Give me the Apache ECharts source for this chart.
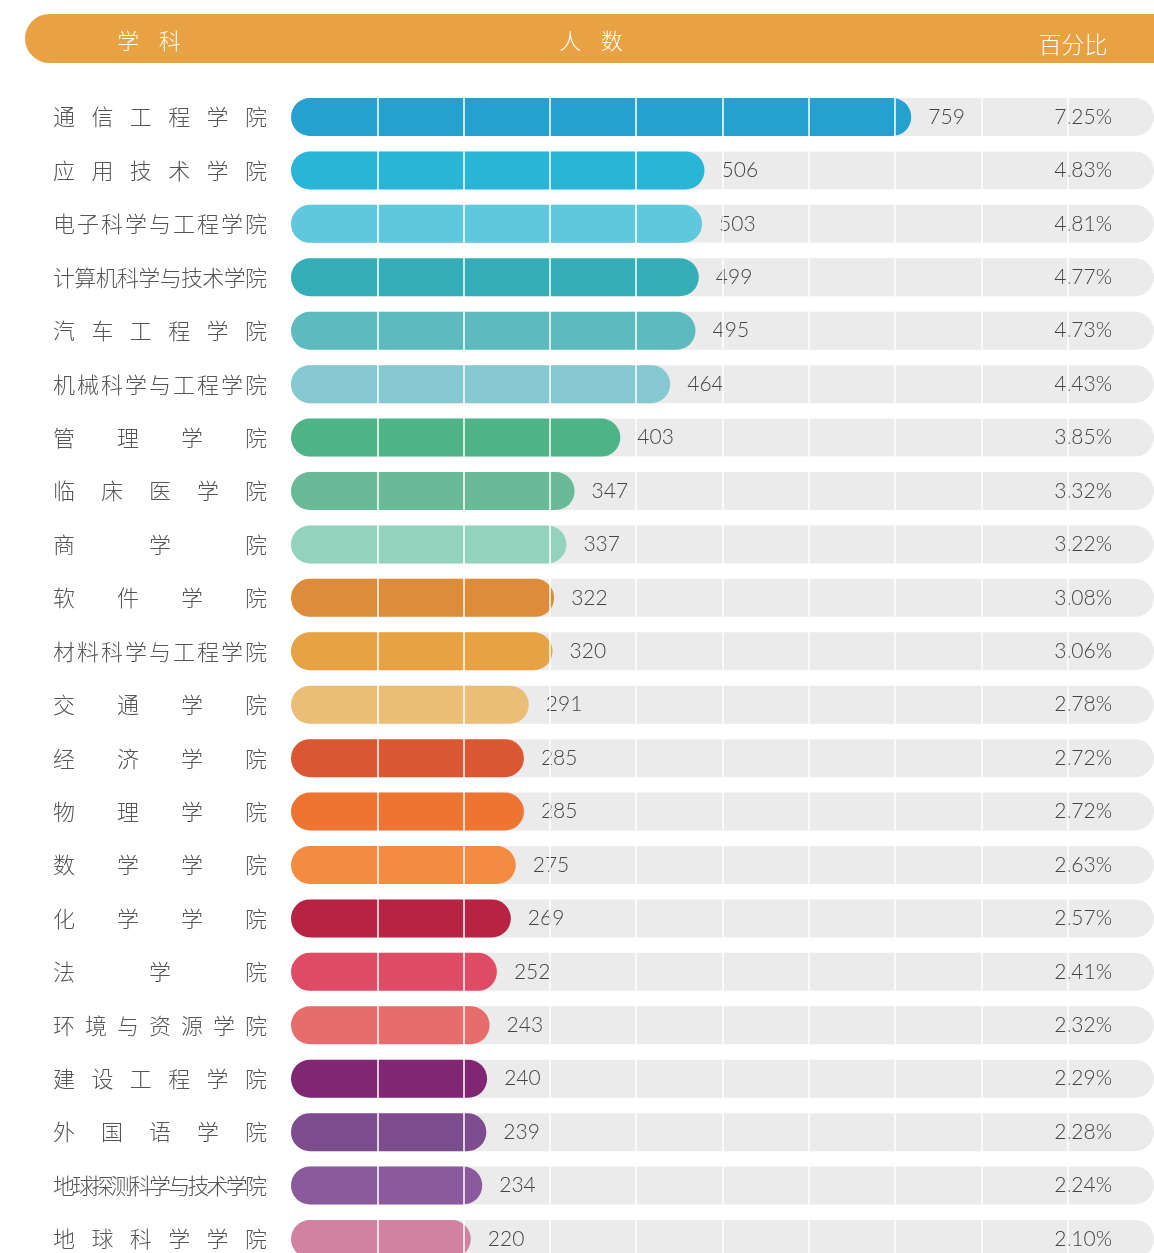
<!DOCTYPE html>
<html>
<head>
<meta charset="utf-8">
<title>学科人数</title>
<script src="https://cdn.jsdelivr.net/npm/echarts@6/dist/echarts.min.js"></script>
<style>
  html, body { margin: 0; padding: 0; background: #fff; }
  #main { width: 1154px; height: 1253px; }
</style>
</head>
<body>
<div id="main"></div>
<script>
  // 学院名称
  var colleges = ['通信工程学院', '应用技术学院', '电子科学与工程学院', '计算机科学与技术学院', '汽车工程学院',
    '机械科学与工程学院', '管理学院', '临床医学院', '商学院', '软件学院', '材料科学与工程学院', '交通学院',
    '经济学院', '物理学院', '数学学院', '化学学院', '法学院', '环境与资源学院', '建设工程学院', '外国语学院',
    '地球探测科学与技术学院', '地球科学学院']
  // 人数
  var counts = [759, 506, 503, 499, 495, 464, 403, 347, 337, 322, 320, 291, 285, 285, 275, 269, 252, 243, 240, 239, 234, 220]
  // 百分比
  var percents = ['7.25%', '4.83%', '4.81%', '4.77%', '4.73%', '4.43%', '3.85%', '3.32%', '3.22%', '3.08%', '3.06%',
    '2.78%', '2.72%', '2.72%', '2.63%', '2.57%', '2.41%', '2.32%', '2.29%', '2.28%', '2.24%', '2.10%']
  var palette = ['#24a1cf', '#28b5d8', '#60c8dc', '#34afb7', '#5dbabf', '#85c8cf', '#4eb386', '#6aba98', '#93d2bd',
    '#df8c3a', '#e7a243', '#ebbe78', '#da5731', '#ed7431', '#f48b42', '#b72342', '#df4b64', '#e76c6b', '#802774',
    '#7e4b8d', '#8a5a9c', '#cf83a1']

  var axisMax = 1056
  var cjk = '"Noto Sans CJK SC", "Noto Sans", sans-serif'
  var num = 'Lato, "Noto Sans", sans-serif'

  // 两端对齐的类目标签：每个字放在固定宽度的格子里
  var labelWidth = 215
  var charW = 23
  var rich = {e: {fontSize: 22, color: '#555', fontFamily: cjk, fontWeight: 300}}
  colleges.forEach(function (name, i) {
    var n = name.length
    rich['s' + i] = {width: (labelWidth - charW) / (n - 1), align: 'left', fontSize: 22, color: '#555', fontFamily: cjk, fontWeight: 300}
  })

  var lines = []
  for (var k = 1; k < 10; k++) lines.push({xAxis: axisMax / 10 * k})

  var chart = echarts.init(document.getElementById('main'))
  chart.setOption({
    animation: false,
    graphic: [
      {type: 'rect', left: 25, top: 14, shape: {width: 1160, height: 49, r: [24.5, 0, 0, 24.5]}, style: {fill: '#e8a244'}},
      {type: 'text', x: 149, y: 41, style: {text: '学    科', fill: '#fff', font: '300 22px ' + cjk, align: 'center', verticalAlign: 'middle'}},
      {type: 'text', x: 591, y: 41, style: {text: '人    数', fill: '#fff', font: '300 22px ' + cjk, align: 'center', verticalAlign: 'middle'}},
      {type: 'text', x: 1073, y: 44, style: {text: '百分比', fill: '#fff', font: '300 23px ' + cjk, align: 'center', verticalAlign: 'middle'}}
    ],
    grid: {left: 291, top: 90.3, width: 863, height: 1175.4, outerBoundsMode: 'none', containLabel: false},
    xAxis: {type: 'value', min: 0, max: axisMax, show: false},
    yAxis: {
      type: 'category',
      inverse: true,
      data: colleges,
      axisLine: {show: false},
      axisTick: {show: false},
      axisLabel: {
        align: 'left',
        margin: 238,
        rich: rich,
        formatter: function (value, index) {
          var chars = value.split('')
          return chars.map(function (c, j) {
            return j < chars.length - 1 ? '{s' + index + '|' + c + '}' : '{e|' + c + '}'
          }).join('')
        }
      }
    },
    series: [
      {
        type: 'bar',
        barWidth: 38,
        barGap: '-100%',
        silent: true,
        data: colleges.map(function () { return axisMax }),
        itemStyle: {color: '#ebebeb', borderRadius: 19},
        label: {
          show: true,
          position: 'insideRight',
          distance: 42,
          color: '#444',
          fontSize: 21,
          fontFamily: num,
          fontWeight: 300,
          formatter: function (p) { return percents[p.dataIndex] }
        }
      },
      {
        type: 'bar',
        barWidth: 38,
        data: counts.map(function (v, i) { return {value: v, itemStyle: {color: palette[i]}} }),
        itemStyle: {borderRadius: 19},
        label: {
          show: true,
          position: 'right',
          distance: 17,
          color: '#444',
          fontSize: 21,
          fontFamily: num,
          fontWeight: 300
        },
        markLine: {
          silent: true,
          symbol: 'none',
          z: 5,
          label: {show: false},
          lineStyle: {color: '#fff', width: 1.5, type: 'solid'},
          data: lines
        }
      }
    ]
  })
</script>
</body>
</html>
